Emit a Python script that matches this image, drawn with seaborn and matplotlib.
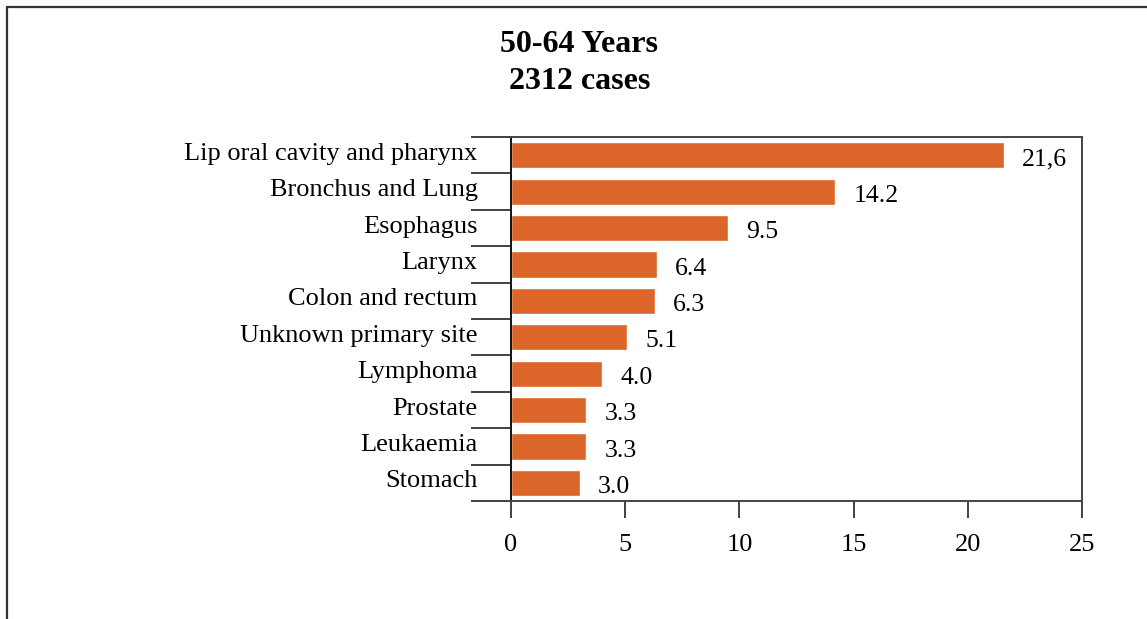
import numpy as np
import pandas as pd
import matplotlib.pyplot as plt
import matplotlib.transforms as mtransforms
from matplotlib.lines import Line2D
import seaborn as sns

sites = ["Lip oral cavity and pharynx", "Bronchus and Lung", "Esophagus", "Larynx",
         "Colon and rectum", "Unknown primary site", "Lymphoma", "Prostate",
         "Leukaemia", "Stomach"]
percent = [21.6, 14.2, 9.5, 6.4, 6.3, 5.1, 4.0, 3.3, 3.3, 3.0]
value_labels = ["21,6", "14.2", "9.5", "6.4", "6.3", "5.1", "4.0", "3.3", "3.3", "3.0"]
x_ticks = [0, 5, 10, 15, 20, 25]

df = pd.DataFrame({"site": sites, "percent": percent})

sns.set_style("white")
plt.rcParams["font.family"] = ["Liberation Serif", "DejaVu Serif"]
plt.rcParams["text.color"] = "black"
plt.rcParams["xtick.color"] = "#333333"
plt.rcParams["ytick.color"] = "#333333"
plt.rcParams["xtick.labelcolor"] = "black"
plt.rcParams["ytick.labelcolor"] = "black"

fig = plt.figure(figsize=(11.47, 6.19), dpi=100)
ax = fig.add_axes([0.4455, 0.1906, 0.4978, 0.588])

sns.barplot(data=df, x="percent", y="site", orient="h", color="#DC6629",
            saturation=1, width=0.72, ax=ax)

for i, (v, lab) in enumerate(zip(percent, value_labels)):
    ax.annotate(lab, xy=(v, i), xytext=(13, -3), textcoords="offset points",
                ha="left", va="center", fontsize=18.5, color="black")

ax.set_xlim(0, 25)
ax.set_ylim(len(sites) - 0.5, -0.5)
ax.set_xticks(x_ticks)
ax.set_xlabel("")
ax.set_ylabel("")

# y tick marks sit between categories, labels centred on bars
ax.set_yticks(np.arange(len(sites)))
ax.set_yticklabels(sites)
ax.set_yticks(np.arange(-0.5, len(sites), 1), minor=True)
ax.tick_params(axis="y", which="major", left=True, length=0, pad=24, labelsize=19)
ax.tick_params(axis="y", which="minor", left=True, length=29, width=1.3, direction="out")
ax.tick_params(axis="x", which="major", bottom=True, length=12, width=1.3, direction="out",
               pad=12, labelsize=19)

# category names sit a little above the bar centres
shift = mtransforms.ScaledTranslation(0, 4 / 100, fig.dpi_scale_trans)
for lab in ax.get_yticklabels():
    lab.set_transform(lab.get_transform() + shift)

for s in ax.spines.values():
    s.set_visible(True)
    s.set_color("#444444")
    s.set_linewidth(1.4)
ax.spines["left"].set_color("#111111")

fig.text(0.505, 0.928, "50-64 Years", ha="center", va="center", fontsize=23, fontweight="bold")
fig.text(0.505, 0.869, "2312 cases", ha="center", va="center", fontsize=23, fontweight="bold")

# outer frame (left and top edges visible)
fig.add_artist(Line2D([6.5 / 1147, 6.5 / 1147], [0, 1 - 6.5 / 619], transform=fig.transFigure,
                      color="#333333", linewidth=1.6))
fig.add_artist(Line2D([6.5 / 1147, 1], [1 - 6.5 / 619, 1 - 6.5 / 619], transform=fig.transFigure,
                      color="#333333", linewidth=1.6))

fig.savefig("out.png", dpi=100)
